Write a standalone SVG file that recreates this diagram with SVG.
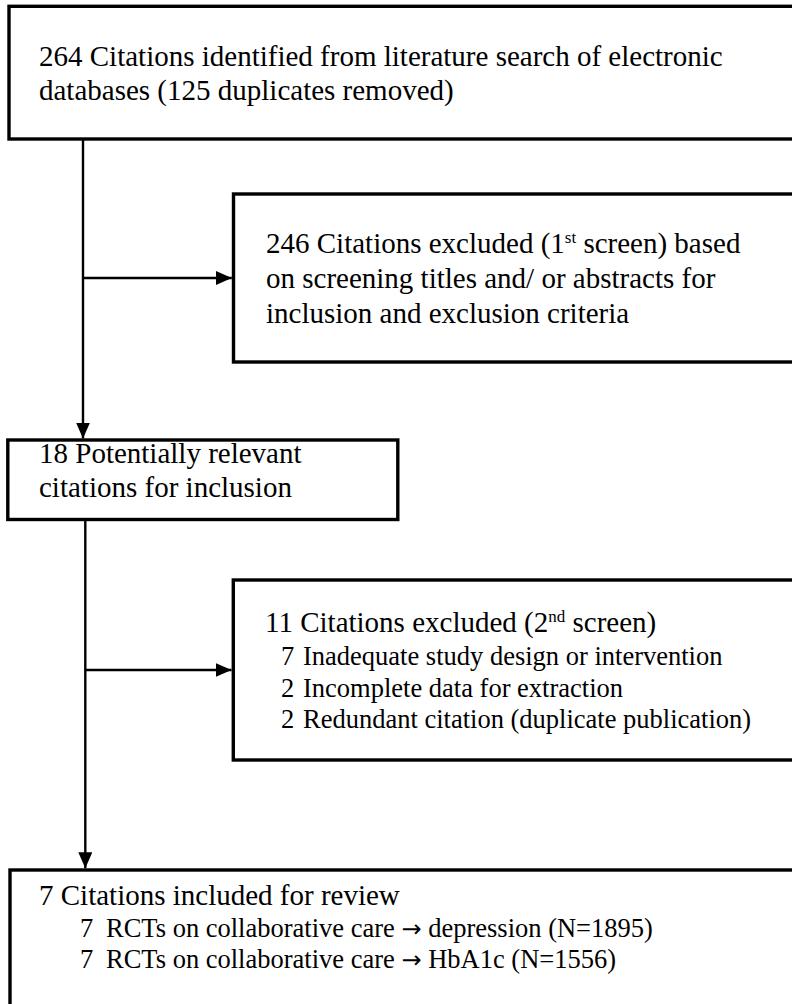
<svg xmlns="http://www.w3.org/2000/svg" width="792" height="1004" viewBox="0 0 792 1004">
<style>
.box{fill:#fff;stroke:#000;stroke-width:3.4}
.t{font-family:"Liberation Serif","Times New Roman",serif;font-size:29px;fill:#000}
.s{font-size:26.5px}
.sup{font-size:17px}
.ar{font-family:"DejaVu Sans",sans-serif;font-size:24px}
.c{stroke:#000;stroke-width:2.4;fill:none}
</style>
<defs>
<marker id="ah" markerUnits="userSpaceOnUse" markerWidth="16" markerHeight="14" refX="16" refY="7" orient="auto">
<path d="M0,0 L16,7 L0,14 Z" fill="#000"/>
</marker>
</defs>
<rect width="792" height="1004" fill="#fff"/>
<g id="connectors">
<line class="c" x1="83" y1="139" x2="83" y2="438.5" marker-end="url(#ah)"/>
<line class="c" x1="83" y1="278" x2="231.8" y2="278" marker-end="url(#ah)"/>
<line class="c" x1="85.3" y1="519" x2="85.3" y2="868.3" marker-end="url(#ah)"/>
<line class="c" x1="85.3" y1="670" x2="231.5" y2="670" marker-end="url(#ah)"/>
</g>
<g id="n1">
<rect class="box" x="9" y="6.3" width="800" height="132.7"/>
<text class="t" x="39" y="66">264 Citations identified from literature search of electronic</text>
<text class="t" x="39" y="100">databases (125 duplicates removed)</text>
</g>
<g id="n2">
<rect class="box" x="233.5" y="194" width="600" height="168"/>
<text class="t" x="266" y="253">246 Citations excluded (1<tspan class="sup" dy="-10">st</tspan><tspan dy="10"> screen) based</tspan></text>
<text class="t" x="266" y="288">on screening titles and/ or abstracts for</text>
<text class="t" x="266" y="323">inclusion and exclusion criteria</text>
</g>
<g id="n3">
<rect class="box" x="7.8" y="440" width="390" height="79.5"/>
<text class="t" x="39" y="463">18 Potentially relevant</text>
<text class="t" x="39" y="497">citations for inclusion</text>
</g>
<g id="n4">
<rect class="box" x="233.3" y="580" width="600" height="180"/>
<text class="t" x="265" y="632">11 Citations excluded (2<tspan class="sup" dy="-10">nd</tspan><tspan dy="10"> screen)</tspan></text>
<text class="t s" x="281" y="665">7</text><text class="t s" x="303" y="665">Inadequate study design or intervention</text>
<text class="t s" x="281" y="697">2</text><text class="t s" x="303" y="697">Incomplete data for extraction</text>
<text class="t s" x="281" y="728">2</text><text class="t s" x="303" y="728">Redundant citation (duplicate publication)</text>
</g>
<g id="n5">
<rect class="box" x="10" y="870" width="800" height="200"/>
<text class="t" x="39" y="905">7 Citations included for review</text>
<text class="t s" x="80" y="937">7</text><text class="t s" x="106" y="937">RCTs on collaborative care <tspan class="ar">→</tspan> depression (N=1895)</text>
<text class="t s" x="80" y="968">7</text><text class="t s" x="106" y="968">RCTs on collaborative care <tspan class="ar">→</tspan> HbA1c (N=1556)</text>
</g>
</svg>
